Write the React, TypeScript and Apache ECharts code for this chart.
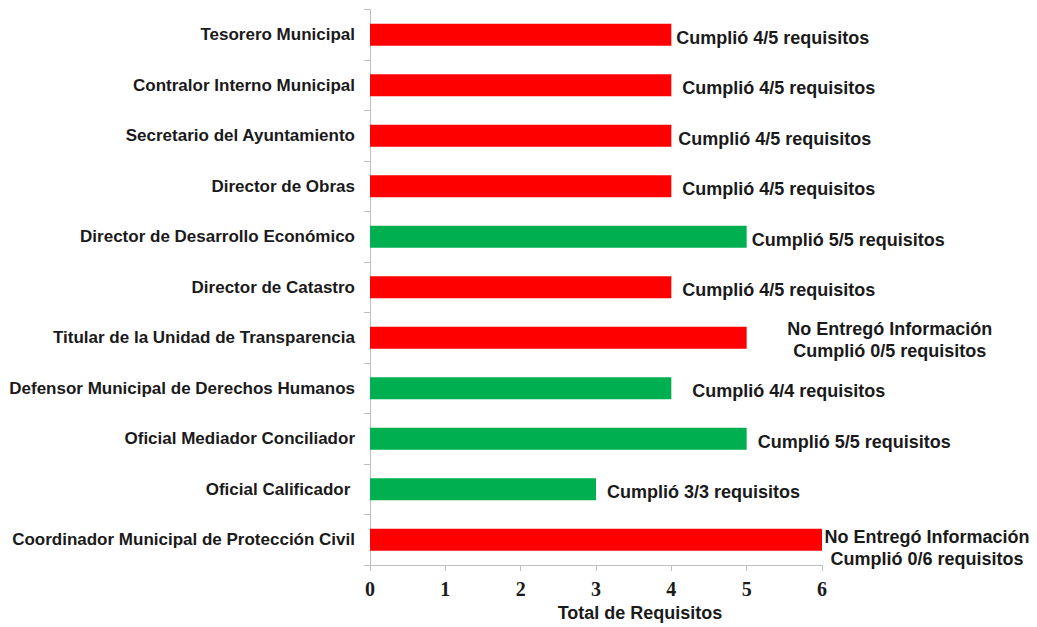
import React, { useEffect, useRef } from "react";
import * as echarts from "echarts";

const categories = [
  "Tesorero Municipal",
  "Contralor Interno Municipal",
  "Secretario del Ayuntamiento",
  "Director de Obras",
  "Director de Desarrollo Económico",
  "Director de Catastro",
  "Titular de la Unidad de Transparencia",
  "Defensor Municipal de Derechos Humanos",
  "Oficial Mediador Conciliador",
  "Oficial Calificador ",
  "Coordinador Municipal de Protección Civil",
];

const totals = [4, 4, 4, 4, 5, 4, 5, 4, 5, 3, 6];

const complied = [false, false, false, false, true, false, false, true, true, true, false];

const barLabels = [
  "Cumplió 4/5 requisitos",
  "Cumplió 4/5 requisitos",
  "Cumplió 4/5 requisitos",
  "Cumplió 4/5 requisitos",
  "Cumplió 5/5 requisitos",
  "Cumplió 4/5 requisitos",
  "No Entregó Información\nCumplió 0/5 requisitos",
  "Cumplió 4/4 requisitos",
  "Cumplió 5/5 requisitos",
  "Cumplió 3/3 requisitos",
  "No Entregó Información\nCumplió 0/6 requisitos",
];

const xTicks = [0, 1, 2, 3, 4, 5, 6];

// label placement tweaks (style, not data)
const LABEL_DX = [5, 11, 7, 11, 5, 11, 143, 21, 11, 11, 105];
const LABEL_DY = [3, 3, 3, 3, 3, 3, 2, 3, 3, 3, 8];

const RED = "#ff0000";
const GREEN = "#00b050";

export default function App() {
  const ref = useRef<HTMLDivElement>(null);
  useEffect(() => {
    if (!ref.current) return;
    const chart = echarts.init(ref.current, undefined, { renderer: "svg" });
    const data = totals.map((v, i) => {
      const multi = barLabels[i].includes("\n");
      return {
        value: v,
        itemStyle: { color: complied[i] ? GREEN : RED },
        label: {
          formatter: barLabels[i],
          offset: [LABEL_DX[i], LABEL_DY[i]],
          align: multi ? "center" : "left",
        },
      };
    });
    chart.setOption({
      animation: false,
      backgroundColor: "#ffffff",
      grid: { left: 370, right: 215, top: 9.5, bottom: 58, containLabel: false },
      xAxis: {
        type: "value",
        min: xTicks[0],
        max: xTicks[xTicks.length - 1],
        interval: 1,
        splitLine: { show: false },
        axisLine: { show: true, lineStyle: { color: "#bfbfbf", width: 1 } },
        axisTick: { show: true, length: 6, lineStyle: { color: "#bfbfbf" } },
        axisLabel: {
          margin: 14,
          fontFamily: "Liberation Serif",
          fontWeight: "bold",
          fontSize: 20,
          color: "#1a1a1a",
        },
        name: "Total de Requisitos",
        nameLocation: "middle",
        nameGap: 39,
        nameTextStyle: {
          fontFamily: "Liberation Sans",
          fontWeight: "bold",
          fontSize: 18,
          color: "#1a1a1a",
          padding: [0, 0, 0, 88],
        },
      },
      yAxis: {
        type: "category",
        data: categories,
        inverse: true,
        axisLine: { show: true, lineStyle: { color: "#bfbfbf", width: 1 } },
        axisTick: { show: true, length: 6, lineStyle: { color: "#bfbfbf" } },
        axisLabel: {
          margin: 15,
          fontFamily: "Liberation Sans",
          fontWeight: "bold",
          fontSize: 17,
          color: "#1a1a1a",
        },
        splitLine: { show: false },
      },
      series: [
        {
          type: "bar",
          data,
          barWidth: 22,
          label: {
            show: true,
            position: "right",
            distance: 0,
            fontFamily: "Liberation Sans",
            fontWeight: "bold",
            fontSize: 18,
            lineHeight: 22,
            color: "#1a1a1a",
          },
        },
      ],
    });
    return () => chart.dispose();
  }, []);
  return (
    <div
      ref={ref}
      style={{ position: "fixed", left: 0, top: 0, width: 1037, height: 627 }}
    />
  );
}
